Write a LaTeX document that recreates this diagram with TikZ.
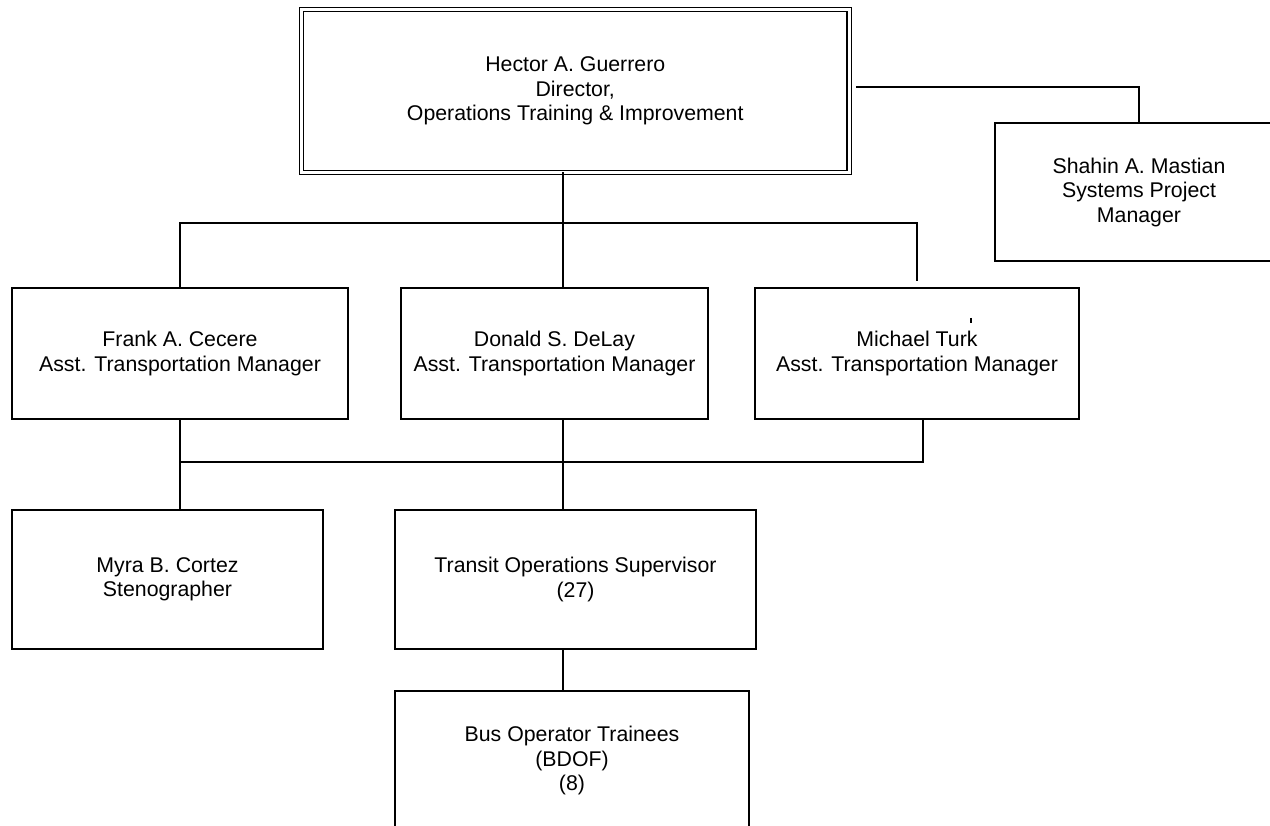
\documentclass[tikz,border=0pt]{standalone}
\usepackage{fontspec}
\setmainfont{Liberation Sans}
\begin{document}
\begin{tikzpicture}[x=1pt,y=-1pt,
  box/.style={draw, line width=1.5pt, inner sep=0pt, outer sep=0pt, align=center,
    font=\fontsize{21.3}{24.5}\selectfont},
  dbox/.style={box, line width=1.2pt, double, double distance=3pt},
  conn/.style={line width=1.5pt}]
\useasboundingbox (0,0) rectangle (1270,826);
\clip (0,0) rectangle (1270,826);
\fill[white] (0,0) rectangle (1270,826);

\node[dbox, minimum width=547.5pt, minimum height=163pt] (hector) at (575.25,91)
  {Hector A. Guerrero\\Director,\\Operations Training \& Improvement};
\node[box, minimum width=288pt, minimum height=138pt] (shahin) at (1139,192)
  {Shahin A. Mastian\\Systems Project\\Manager};
\node[box, minimum width=336pt, minimum height=131pt] (frank) at (180,353.5)
  {Frank A. Cecere\\Asst. Transportation Manager};
\node[box, minimum width=307pt, minimum height=131pt] (donald) at (554.5,353.5)
  {Donald S. DeLay\\Asst. Transportation Manager};
\node[box, minimum width=324pt, minimum height=131pt] (michael) at (917,353.5)
  {Michael Turk\\Asst. Transportation Manager};
\node[box, minimum width=311pt, minimum height=139pt] (myra) at (167.5,579.5)
  {Myra B. Cortez\\Stenographer};
\node[box, minimum width=361pt, minimum height=139pt] (transit) at (575.5,579.5)
  {Transit Operations Supervisor\\(27)};
\node[box, minimum width=354pt, minimum height=139pt] (bus) at (572,760.5)
  {Bus Operator Trainees\\(BDOF)\\(8)};

\coordinate (spine) at (563,0);
\coordinate (bar1) at (0,223);
\coordinate (bar2) at (0,462);
\coordinate (mend) at (917,281);
\coordinate (mdrop) at (923,0);
\coordinate (hstart) at (856,87);

\draw[conn] (hector.south -| spine) -- (donald.north -| spine);
\draw[conn] (frank.north) -- (frank.north |- bar1) -- (michael.north |- bar1) -- (mend);
\draw[conn] (hstart) -| (shahin.north);
\draw[conn] (frank.south) -- (frank.south |- myra.north);
\draw[conn] (donald.south -| spine) -- (transit.north -| spine);
\draw[conn] (michael.south -| mdrop) -- (mdrop |- bar2) -- (frank.south |- bar2);
\draw[conn] (transit.south -| spine) -- (bus.north -| spine);
\draw[line width=1.2pt] (971,318) -- (971,323);
\end{tikzpicture}
\end{document}
